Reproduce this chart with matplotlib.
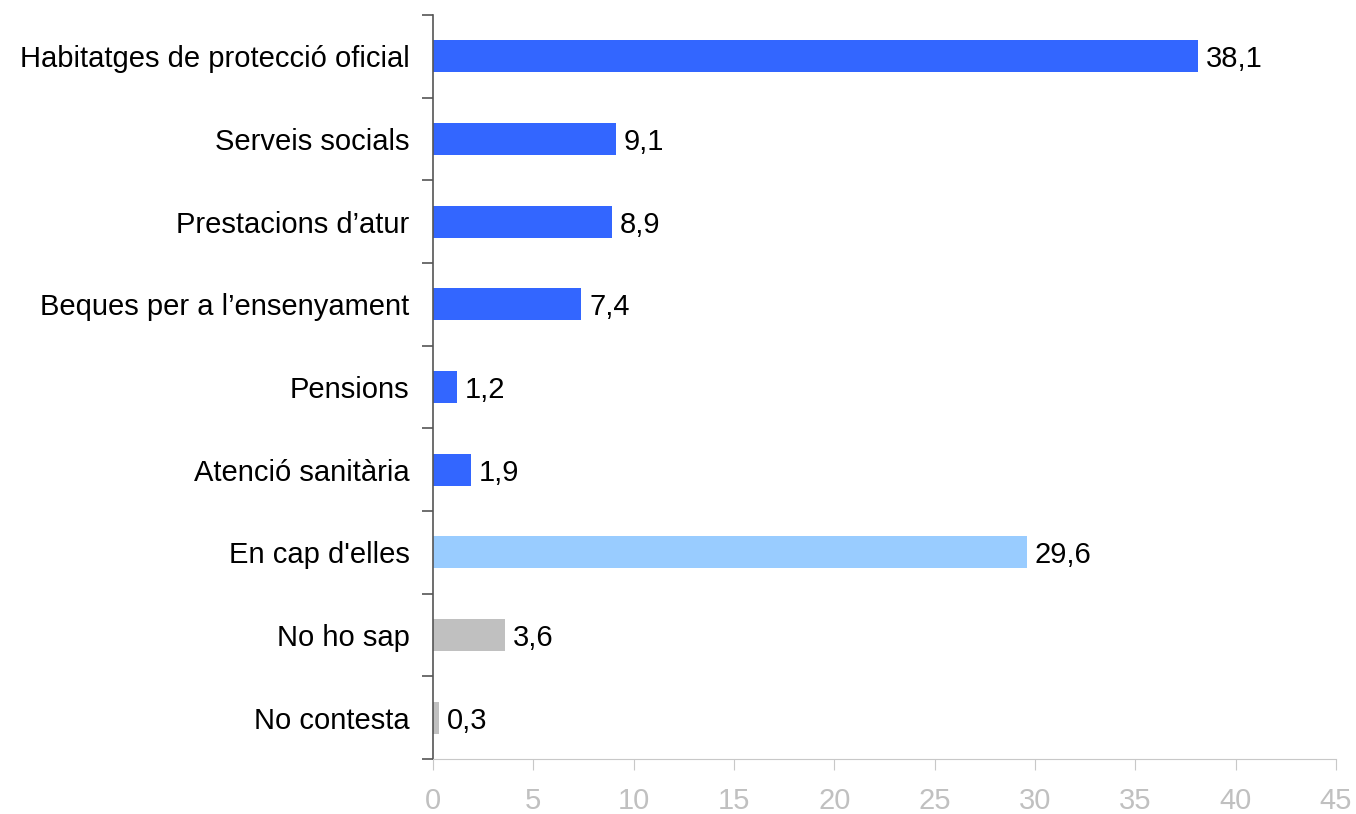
import matplotlib.pyplot as plt
import numpy as np

plt.rcParams['font.family'] = ['Liberation Sans', 'DejaVu Sans']

# Data
categories = ['Habitatges de protecció oficial', 'Serveis socials', 'Prestacions d\u2019atur',
              'Beques per a l\u2019ensenyament', 'Pensions', 'Atenció sanitària',
              "En cap d'elles", 'No ho sap', 'No contesta']
values = [38.1, 9.1, 8.9, 7.4, 1.2, 1.9, 29.6, 3.6, 0.3]
colors = ['#3366FF'] * 6 + ['#99CCFF', '#C0C0C0', '#C0C0C0']
xticks = [0, 5, 10, 15, 20, 25, 30, 35, 40, 45]

fig = plt.figure(figsize=(13.56, 8.14), dpi=100)
ax = fig.add_axes([433 / 1356, 1 - 759 / 814, 903 / 1356, 744 / 814])

pos = np.arange(len(categories))
ax.barh(pos, values, height=0.39, color=colors)

for p, v in zip(pos, values):
    ax.text(v + 0.4, p, f'{v:.1f}'.replace('.', ','), va='center_baseline', ha='left', fontsize=21)

ax.set_xlim(0, 45)
ax.set_ylim(len(categories) - 0.5, -0.5)
ax.set_xticks(xticks)
ax.set_yticks(pos)
ax.set_yticklabels(categories, fontsize=21)
ax.set_yticks(np.arange(len(categories) + 1) - 0.5, minor=True)
ax.tick_params(axis='y', which='major', length=0, pad=17)
ax.tick_params(axis='y', which='minor', length=8, color='#555555', width=1.2)
ax.tick_params(axis='x', length=8, color='#C8C8C8', labelcolor='#C0C0C0', labelsize=21, pad=12)

for s in ['top', 'right']:
    ax.spines[s].set_visible(False)
ax.spines['left'].set_color('#555555')
ax.spines['left'].set_linewidth(1.2)
ax.spines['bottom'].set_color('#C8C8C8')

fig.savefig('out.png', dpi=100)
